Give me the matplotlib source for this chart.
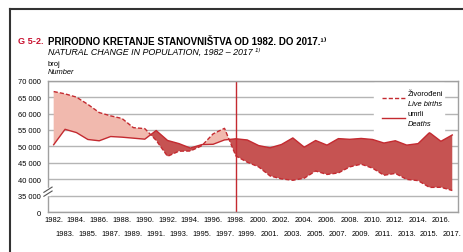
import matplotlib.pyplot as plt
from matplotlib.lines import Line2D
from matplotlib.patches import Rectangle

plt.rcParams['font.family'] = ['Liberation Sans Narrow', 'Liberation Sans', 'DejaVu Sans']

years = list(range(1982, 2018))
births = [66700, 66000, 65000, 62800, 60300, 59300, 58500, 55700,
          55409, 51829, 46970, 48535, 48584, 50182, 53811, 55501,
          47068, 45179, 43746, 40993, 40094, 39668, 40307, 42492,
          41446, 41910, 43753, 44577, 43361, 41197, 41771, 39939,
          39566, 37503, 37537, 36556]
deaths = [50500, 55200, 54200, 52100, 51700, 53000, 52800, 52500,
          52192, 54832, 51800, 50846, 49482, 50536, 50636, 51964,
          52311, 51953, 50246, 49552, 50569, 52575, 49756, 51790,
          50378, 52367, 52151, 52414, 52096, 51019, 51710, 50386,
          50839, 54205, 51542, 53477]
ytick_vals = [30000, 35000, 40000, 45000, 50000, 55000, 60000, 65000, 70000]
ytick_labels = ['0', '35 000', '40 000', '45 000', '50 000', '55 000', '60 000', '65 000', '70 000']

red = '#c42a30'
light = '#f1b9ae'
dark = '#c65352'
fs = 5.4

fig = plt.figure(figsize=(4.64, 2.53), dpi=100)
ax = fig.add_axes([0.1034, 0.158, 0.8836, 0.519])

ax.fill_between(years, births, deaths, where=[b >= d for b, d in zip(births, deaths)],
                interpolate=True, color=light, lw=0)
ax.fill_between(years, births, deaths, where=[b < d for b, d in zip(births, deaths)],
                interpolate=True, color=dark, lw=0)
ax.plot(years, births, color=red, lw=1, ls=(0, (3, 1.5)))
ax.plot(years, deaths, color=red, lw=1)
ax.axvline(1998, color=red, lw=1)

ax.set_xlim(1981.5, 2017.5)
ax.set_ylim(30000, 70000)
ax.set_yticks(ytick_vals)
ax.set_yticklabels(ytick_labels, fontsize=fs)
even = [y for y in years if y % 2 == 0]
odd = [y for y in years if y % 2 == 1]
ax.set_xticks(even)
ax.set_xticklabels([f'{y}.' for y in even], fontsize=fs)
ax.set_xticks(odd, minor=True)
ax.set_xticklabels([f'{y}.' for y in odd], minor=True, fontsize=fs)
ax.tick_params(axis='x', which='major', length=0, pad=3)
ax.tick_params(axis='x', which='minor', length=0, pad=13)
ax.tick_params(axis='y', length=0, pad=5)
ax.grid(axis='y', color='#b5b5b5', lw=1)
ax.set_axisbelow(True)
for s in ax.spines.values():
    s.set_color('#a0a0a0')
    s.set_linewidth(1)

# axis break marks
ax.add_patch(Rectangle((-0.006, 0.13), 0.012, 0.05, transform=ax.transAxes,
                       color='white', clip_on=False, zorder=5))
for dy in (0.0, 0.03):
    ax.plot([-0.01, 0.01], [0.12 + dy, 0.16 + dy], transform=ax.transAxes,
            color='#555555', lw=0.8, clip_on=False, zorder=6)

# legend
ax.add_patch(Rectangle((0.795, 0.62), 0.17, 0.36, transform=ax.transAxes,
                       color='white', zorder=3))
ax.add_artist(Line2D([0.815, 0.87], [0.865, 0.865], transform=ax.transAxes,
                     color=red, lw=1, ls=(0, (3, 1.5)), zorder=4))
ax.add_artist(Line2D([0.815, 0.87], [0.715, 0.715], transform=ax.transAxes,
                     color=red, lw=1, zorder=4))
ax.text(0.878, 0.9, 'Živorođeni', transform=ax.transAxes, fontsize=fs, va='center', zorder=4)
ax.text(0.878, 0.83, 'Live births', transform=ax.transAxes, fontsize=fs, style='italic',
        va='center', zorder=4)
ax.text(0.878, 0.75, 'umrli', transform=ax.transAxes, fontsize=fs, va='center', zorder=4)
ax.text(0.878, 0.675, 'Deaths', transform=ax.transAxes, fontsize=fs, style='italic',
        va='center', zorder=4)

# titles
fig.text(18 / 464, 1 - 42 / 253, 'G 5-2.', color='#c8102e', fontsize=6.6, weight='bold', va='center')
fig.text(48 / 464, 1 - 42 / 253, 'PRIRODNO KRETANJE STANOVNIŠTVA OD 1982. DO 2017.¹⁾',
         fontsize=7, weight='bold', va='center')
fig.text(48 / 464, 1 - 52.5 / 253, 'NATURAL CHANGE IN POPULATION, 1982 – 2017 ¹⁾',
         fontsize=6.4, style='italic', va='center')
fig.text(48 / 464, 1 - 64 / 253, 'broj', fontsize=fs, va='center')
fig.text(48 / 464, 1 - 73 / 253, 'Number', fontsize=fs, style='italic', va='center')

# outer frame
fig.add_artist(Line2D([10 / 464, 1], [1 - 10 / 253, 1 - 10 / 253], color='#333333', lw=1.5))
fig.add_artist(Line2D([10 / 464, 10 / 464], [0, 1 - 10 / 253], color='#333333', lw=1.5))

fig.savefig('out.png', dpi=100)
